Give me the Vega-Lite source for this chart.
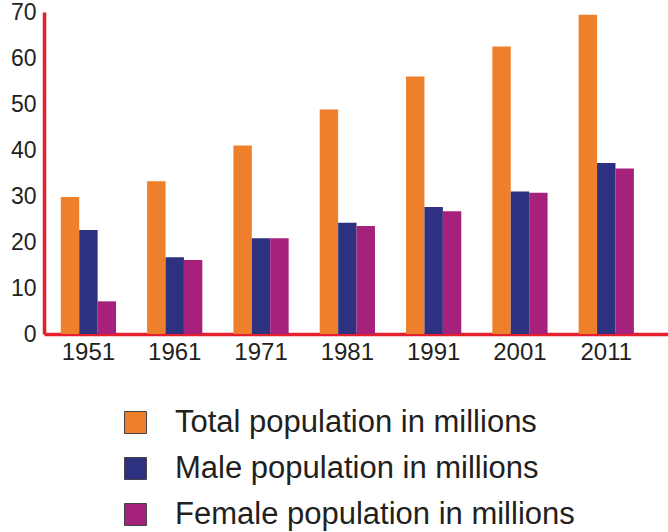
{
  "$schema": "https://vega.github.io/schema/vega-lite/v6.json",
  "autosize": {"type": "none"},
  "padding": {"left": 44, "top": 12, "right": 0, "bottom": 198},
  "width": 624,
  "height": 322,
  "background": "white",
  "config": {"view": {"stroke": null}, "font": "Liberation Sans"},
  "data": {"values": [
    {"year": "1951", "series": "Total population in millions", "value": 29.8},
    {"year": "1951", "series": "Male population in millions", "value": 22.6},
    {"year": "1951", "series": "Female population in millions", "value": 7.1},
    {"year": "1961", "series": "Total population in millions", "value": 33.2},
    {"year": "1961", "series": "Male population in millions", "value": 16.7},
    {"year": "1961", "series": "Female population in millions", "value": 16.1},
    {"year": "1971", "series": "Total population in millions", "value": 41.0},
    {"year": "1971", "series": "Male population in millions", "value": 20.8},
    {"year": "1971", "series": "Female population in millions", "value": 20.8},
    {"year": "1981", "series": "Total population in millions", "value": 48.8},
    {"year": "1981", "series": "Male population in millions", "value": 24.2},
    {"year": "1981", "series": "Female population in millions", "value": 23.5},
    {"year": "1991", "series": "Total population in millions", "value": 56.0},
    {"year": "1991", "series": "Male population in millions", "value": 27.6},
    {"year": "1991", "series": "Female population in millions", "value": 26.7},
    {"year": "2001", "series": "Total population in millions", "value": 62.5},
    {"year": "2001", "series": "Male population in millions", "value": 31.0},
    {"year": "2001", "series": "Female population in millions", "value": 30.7},
    {"year": "2011", "series": "Total population in millions", "value": 69.4},
    {"year": "2011", "series": "Male population in millions", "value": 37.2},
    {"year": "2011", "series": "Female population in millions", "value": 36.0}
  ]},
  "mark": {"type": "bar"},
  "encoding": {
    "x": {
      "field": "year", "type": "nominal",
      "scale": {"paddingInner": 0.36, "paddingOuter": 0.295, "align": 0.33},
      "axis": {
        "title": null, "labelAngle": 0, "ticks": false, "tickSize": 0,
        "domainColor": "#e3202b", "domainWidth": 3.5,
        "labelFontSize": 24, "labelColor": "#231f20", "labelPadding": 6
      }
    },
    "xOffset": {
      "field": "series", "type": "nominal",
      "sort": ["Total population in millions", "Male population in millions", "Female population in millions"],
      "scale": {"paddingInner": 0, "paddingOuter": 0}
    },
    "y": {
      "field": "value", "type": "quantitative",
      "scale": {"domain": [0, 70], "nice": false},
      "axis": {
        "title": null, "values": [0, 10, 20, 30, 40, 50, 60, 70],
        "ticks": false, "tickSize": 0, "grid": false,
        "domainColor": "#e3202b", "domainWidth": 3.5,
        "labelFontSize": 23, "labelColor": "#231f20", "labelPadding": 8
      }
    },
    "color": {
      "field": "series", "type": "nominal",
      "sort": ["Total population in millions", "Male population in millions", "Female population in millions"],
      "scale": {
        "domain": ["Total population in millions", "Male population in millions", "Female population in millions"],
        "range": ["#ee7f2b", "#2e3180", "#a6217c"]
      },
      "legend": {
        "title": null, "orient": "none", "legendX": 76, "legendY": 395,
        "padding": 0, "symbolType": "square", "symbolSize": 484,
        "symbolStrokeColor": "#444444", "symbolStrokeWidth": 1, "symbolOffset": 0,
        "labelFontSize": 31, "labelColor": "#231f20", "labelOffset": 24,
        "rowPadding": 14, "labelLimit": 600
      }
    }
  }
}
